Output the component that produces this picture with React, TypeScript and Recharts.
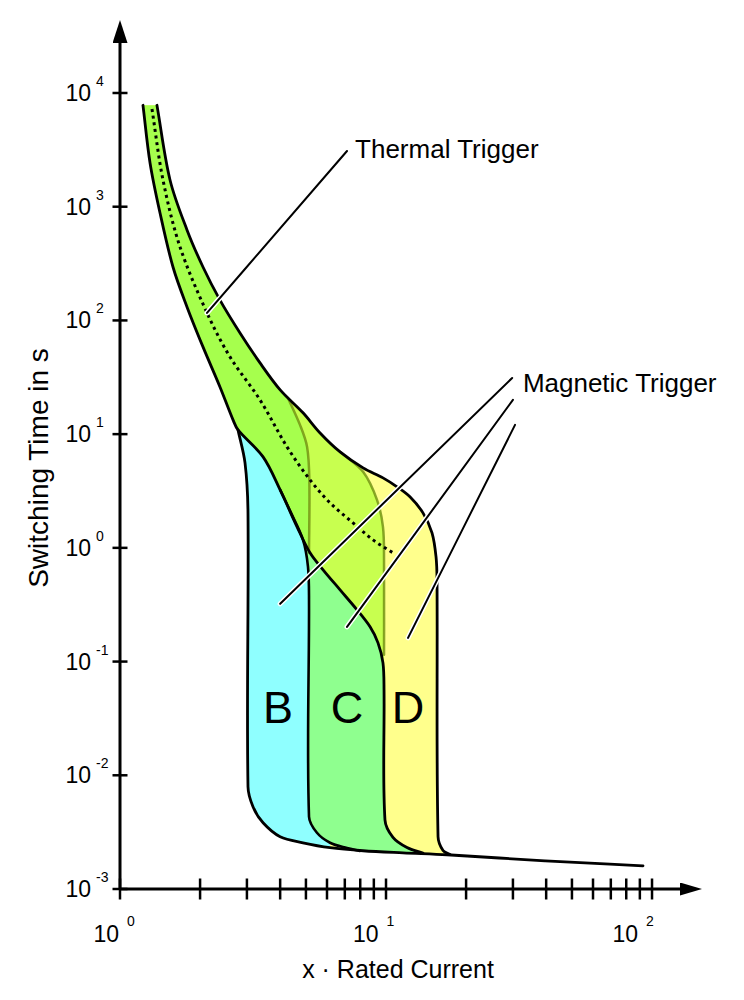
import React from "react";
import { ComposedChart, XAxis, YAxis, Scatter } from "recharts";

type Pt = [number, number];
type XY = { x: number; y: number };
type Row = { x: number; y: number; k: boolean };

const FONT = "'Liberation Sans', Arial, Helvetica, sans-serif";

// axis ticks: x = multiples of rated current, y = seconds
const xTicks = [1, 2, 3, 4, 5, 6, 7, 8, 9, 10, 20, 30, 40, 50, 60, 70, 80, 90, 100];
const yTicks = [0.001, 0.01, 0.1, 1, 10, 100, 1000, 10000];

// cold edge of the thermal band, down to where curve B branches off
const thermalLower: Pt[] = [
  [1.22, 7800], [1.297, 2426], [1.414, 881], [1.582, 295], [1.786, 131.5],
  [2.051, 58.5], [2.376, 26.0], [2.66, 13.35], [2.777, 10.9],
];
// same edge continued, bending down into the x10 line (C/D split)
const innerCurve: Pt[] = [
  [2.777, 10.9], [3.45, 6.31], [4.0, 3.235], [4.63, 1.53], [5.18, 0.904],
  [5.8, 0.641], [6.72, 0.427], [7.78, 0.285], [8.71, 0.202], [9.33, 0.146],
  [9.74, 0.0975], [9.83, 0.0565], [9.91, 0.00406], [10.62, 0.00285],
  [11.99, 0.00232], [13.77, 0.00207],
];
// warm edge of the thermal band, ending as the D limit
const outerCurve: Pt[] = [
  [1.377, 7800], [1.542, 1718], [1.786, 625], [2.051, 295], [2.376, 151],
  [2.826, 77.6], [3.36, 42.3], [4.0, 24.5], [4.875, 15.4], [5.65, 10.25],
  [6.72, 6.98], [8.2, 5.05], [9.74, 4.125], [11.0, 3.44], [12.3, 2.81],
  [13.77, 2.03], [14.89, 1.355], [15.42, 0.834], [15.55, 0.523],
  [15.69, 0.00288], [16.38, 0.00218], [17.4, 0.00201],
];
// B lower limit (x3) and the common instantaneous floor
const bLeft: Pt[] = [
  [2.777, 10.9], [2.951, 5.59], [3.028, 2.03], [3.028, 0.00792], [3.162, 0.00529],
  [3.45, 0.00382], [4.0, 0.00288], [4.875, 0.00255], [6.16, 0.00231],
  [8.2, 0.00217], [11.59, 0.00208], [16.96, 0.002], [39.6, 0.00177], [92.5, 0.0016],
];
// B upper / C lower limit (x5)
const bRight: Pt[] = [
  [4.0, 3.235], [4.395, 2.03], [4.875, 1.176], [5.09, 0.681], [5.135, 0.349],
  [5.135, 0.00432], [5.5, 0.00312], [6.16, 0.00255], [7.135, 0.00229], [7.98, 0.00216],
];
const split5: Pt[] = [[4.28, 20.8], [4.75, 12.06], [5.05, 7.73], [5.15, 3.96], [5.135, 0.904]];
const split10: Pt[] = [[6.72, 6.98], [8.2, 4.66], [9.25, 2.64], [9.74, 1.53], [9.83, 0.784], [9.83, 0.1147]];
// mean thermal characteristic (dotted)
const thermalMean: Pt[] = [
  [1.319, 7230], [1.451, 1718], [1.681, 443], [2.124, 116.4], [2.591, 47.8],
  [3.36, 20.0], [4.245, 7.73], [5.18, 3.96], [6.16, 2.486], [7.515, 1.659],
  [8.93, 1.176], [10.62, 0.904],
];

const thermalLeader: Pt[] = [[7.135, 3090], [2.124, 116.4]];
const magneticLeaders: Pt[][] = [
  [[29.8, 31.2], [4.0, 0.322]],
  [[30.0, 20.0], [7.135, 0.202]],
  [[30.55, 12.06], [12.1, 0.1617]],
];
const callouts = [
  { x: 7.65, y: 2683, text: "Thermal Trigger" },
  { x: 32.7, y: 23.5, text: "Magnetic Trigger" },
];
const letters = [
  { x: 3.93, y: 0.0289, text: "B" },
  { x: 7.135, y: 0.0289, text: "C" },
  { x: 12.1, y: 0.0289, text: "D" },
];

const rev = (a: Pt[]) => a.slice().reverse();
const join = (...parts: Pt[][]): Row[] =>
  parts.flatMap((part) => part.map(([x, y], i) => ({ x, y, k: i === 0 || i === part.length - 1 })));

const yellowArea = join(outerCurve, rev(bLeft.slice(0, 12)), rev(thermalLower));
const thermalArea = join(thermalLower, innerCurve.slice(0, 5), rev(split5), rev(outerCurve.slice(0, 8)));
const overlapArea = join(split5, innerCurve.slice(4, 11), rev(split10), rev(outerCurve.slice(8, 11)));
const cyanArea = join(bLeft.slice(0, 9), rev(bRight.slice(0, 8)), rev(innerCurve.slice(0, 3)));
const greenArea = join(innerCurve.slice(2), rev(bLeft.slice(9, 11)), rev(bRight));

const dist = (a: XY, b: XY) => Math.hypot(b.x - a.x, b.y - a.y) || 1e-6;

// chord-length weighted cubic through the pixel points (no overshoot on uneven spacing)
function smoothSeg(seg: XY[]) {
  let d = "";
  for (let i = 0; i < seg.length - 1; i++) {
    const p0 = seg[i - 1] || seg[i];
    const p1 = seg[i];
    const p2 = seg[i + 1];
    const p3 = seg[i + 2] || seg[i + 1];
    const d01 = i === 0 ? 0 : dist(p0, p1);
    const d12 = dist(p1, p2);
    const d23 = i + 2 < seg.length ? dist(p2, p3) : 0;
    const m1x = (p2.x - p0.x) / (d01 + d12);
    const m1y = (p2.y - p0.y) / (d01 + d12);
    const m2x = (p3.x - p1.x) / (d12 + d23);
    const m2y = (p3.y - p1.y) / (d12 + d23);
    const c1x = p1.x + (m1x * d12) / 3;
    const c1y = p1.y + (m1y * d12) / 3;
    const c2x = p2.x - (m2x * d12) / 3;
    const c2y = p2.y - (m2y * d12) / 3;
    d += ` C${c1x},${c1y} ${c2x},${c2y} ${p2.x},${p2.y}`;
  }
  return d;
}

function buildPath(points: XY[], corners: boolean[], closed: boolean) {
  if (!points || !points.length) return "";
  let d = `M${points[0].x},${points[0].y}`;
  let seg: XY[] = [points[0]];
  for (let i = 1; i < points.length; i++) {
    seg.push(points[i]);
    if (corners[i] || i === points.length - 1) {
      d += smoothSeg(seg);
      seg = [points[i]];
    }
  }
  return closed ? d + " Z" : d;
}

const noDot = () => <g />;

type Look = { fill?: string; stroke?: string; width?: number; dash?: string; cap?: "round" | "butt"; opacity?: number };

function series(key: string, rows: Row[], look: Look) {
  const corners = rows.map((r) => r.k);
  return (
    <Scatter
      key={key}
      data={rows}
      dataKey="y"
      isAnimationActive={false}
      shape={noDot}
      line={(p: any) => (
        <path
          d={buildPath(p.points, corners, !!look.fill)}
          fill={look.fill || "none"}
          stroke={look.stroke || "none"}
          strokeWidth={look.width || 0}
          strokeDasharray={look.dash}
          strokeLinecap={look.cap || "round"}
          strokeLinejoin="round"
          strokeOpacity={look.opacity ?? 1}
        />
      )}
    />
  );
}

const line = (pts: Pt[]) => join(pts);

const XTick = (props: any) => {
  const { x, y, payload } = props;
  const e = Math.log10(payload.value);
  const major = Math.abs(e - Math.round(e)) < 1e-6;
  const dx = -1 - 6.5 * Math.round(e);
  return (
    <g>
      <line x1={x} x2={x} y1={y - 10.5} y2={y + 10.5} stroke="#000" strokeWidth={2.5} />
      {major && (
        <>
          <text x={x + dx} y={y + 53} textAnchor="end" fontSize={23} fontFamily={FONT} fill="#000">10</text>
          <text x={x + dx + 8} y={y + 37} fontSize={14} fontFamily={FONT} fill="#000">{Math.round(e)}</text>
        </>
      )}
    </g>
  );
};

const YTick = (props: any) => {
  const { x, y, payload } = props;
  const e = Math.round(Math.log10(payload.value));
  return (
    <g>
      <line x1={x - 7.5} x2={x + 7.5} y1={y} y2={y} stroke="#000" strokeWidth={2.5} />
      <text x={x - 29} y={y + 8} textAnchor="end" fontSize={23} fontFamily={FONT} fill="#000">10</text>
      <text x={x - 24} y={y - 7} fontSize={14} fontFamily={FONT} fill="#000">{e}</text>
    </g>
  );
};

const YTitle = (props: any) => {
  const vb = props.viewBox || {};
  const cx = (vb.x ?? 0) + 38;
  const cy = (vb.y ?? 43) + (vb.height ?? 846) / 2 + 2;
  return (
    <g>
      <defs>
        <marker id="arrowX" markerUnits="userSpaceOnUse" markerWidth="24" markerHeight="14" refX="0" refY="6.5" orient="auto" viewBox="0 0 24 14">
          <path d="M0,0 L22,6.5 L0,13 Z" fill="#000" />
        </marker>
        <marker id="arrowY" markerUnits="userSpaceOnUse" markerWidth="24" markerHeight="16" refX="0" refY="7.5" orient="auto-start-reverse" viewBox="0 0 24 16">
          <path d="M0,0 L23,7.5 L0,15 Z" fill="#000" />
        </marker>
      </defs>
      <text x={cx} y={cy} transform={`rotate(-90 ${cx} ${cy})`} textAnchor="middle" dominantBaseline="central" fontSize={28} fontFamily={FONT} fill="#000">
        Switching Time in s
      </text>
    </g>
  );
};

const XTitle = (props: any) => {
  const vb = props.viewBox || {};
  const cx = (vb.x ?? 120) + (vb.width ?? 560) / 2 - 2;
  const by = (vb.y ?? 889) + 89;
  return (
    <text x={cx} y={by} textAnchor="middle" fontSize={25} fontFamily={FONT} fill="#000">
      x · Rated Current
    </text>
  );
};

export default function App() {
  return (
    <div style={{ position: "absolute", left: 0, top: 0, width: 744, height: 1000, background: "#fff" }}>
      <ComposedChart width={744} height={1000} margin={{ top: 43, right: 64, bottom: 0, left: 0 }}>
        <XAxis
          type="number"
          dataKey="x"
          scale="log"
          domain={[1, 127.4]}
          ticks={xTicks}
          interval={0}
          height={111}
          tickSize={0}
          tickMargin={0}
          tickLine={false}
          tick={XTick}
          axisLine={{ stroke: "#000", strokeWidth: 3, markerEnd: "url(#arrowX)" }}
          label={{ content: XTitle }}
        />
        <YAxis
          type="number"
          dataKey="y"
          scale="log"
          domain={[0.001, 27520]}
          ticks={yTicks}
          interval={0}
          width={120}
          tickSize={0}
          tickMargin={0}
          tickLine={false}
          tick={YTick}
          axisLine={{ stroke: "#000", strokeWidth: 3, markerStart: "url(#arrowY)" }}
          label={{ content: YTitle }}
        />
        {series("yellow", yellowArea, { fill: "#ffff8c" })}
        {series("thermal", thermalArea, { fill: "#a6ff4d" })}
        {series("overlap", overlapArea, { fill: "#c8ff4f" })}
        {series("cyan", cyanArea, { fill: "#8fffff" })}
        {series("green", greenArea, { fill: "#8fff8f" })}
        {series("split5", line(split5), { stroke: "#6f8f10", width: 2.5, opacity: 0.8 })}
        {series("split10", line(split10), { stroke: "#6f8f10", width: 2.5, opacity: 0.8 })}
        {series("outer", line(outerCurve), { stroke: "#000", width: 2.8 })}
        {series("inner", line([...thermalLower, ...innerCurve.slice(1)]), { stroke: "#000", width: 2.8 })}
        {series("bLeft", line(bLeft), { stroke: "#000", width: 2.8 })}
        {series("bRight", line(bRight), { stroke: "#000", width: 2.6 })}
        {series("mean", line(thermalMean), { stroke: "#000", width: 3, dash: "3 3.7", cap: "butt" })}
        {[thermalLeader, ...magneticLeaders].map((seg, i) => series(`halo${i}`, line(seg), { stroke: "#fff", width: 5 }))}
        {[thermalLeader, ...magneticLeaders].map((seg, i) => series(`lead${i}`, line(seg), { stroke: "#000", width: 2 }))}
        <Scatter
          data={callouts}
          dataKey="y"
          isAnimationActive={false}
          shape={(p: any) => (
            <text x={p.cx} y={p.cy} fontSize={26} fontFamily={FONT} fill="#000">{p.payload.text}</text>
          )}
        />
        <Scatter
          data={letters}
          dataKey="y"
          isAnimationActive={false}
          shape={(p: any) => (
            <text x={p.cx} y={p.cy} textAnchor="middle" fontSize={45} fontFamily={FONT} fill="#000">{p.payload.text}</text>
          )}
        />
      </ComposedChart>
    </div>
  );
}
